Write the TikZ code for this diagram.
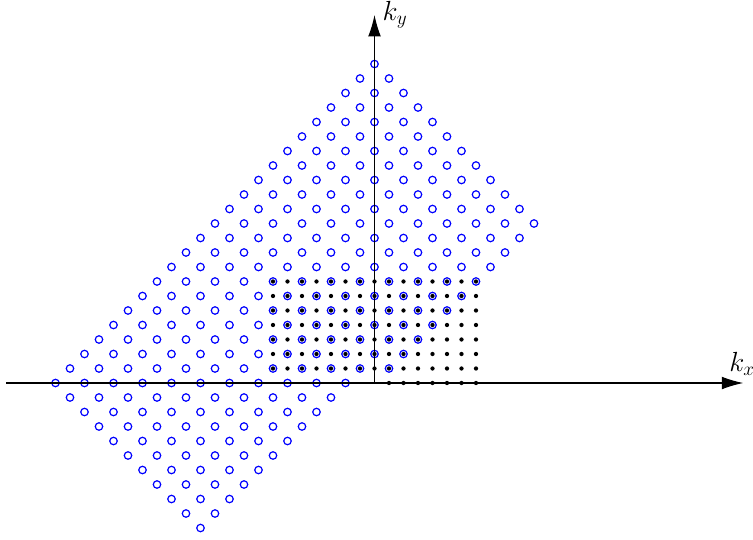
\documentclass[tikz,border=0pt]{standalone}
\usetikzlibrary{arrows.meta}
\tikzset{
  kaxis/.style={line width=0.8pt, -{Latex[length=16pt, width=9.5pt]}},
  bluept/.style={circle, draw=blue, line width=0.9pt, minimum size=5.6pt, inner sep=0pt},
  blackpt/.style={circle, fill=black, minimum size=3.2pt, inner sep=0pt},
  klabel/.style={inner sep=0pt, font=\fontsize{21}{25}\selectfont},
}

\begin{document}
\begin{tikzpicture}[x=10.875pt, y=10.875pt]
  \useasboundingbox (-25.828,-10.759) rectangle (26.103,26.414);

  % rotated lattice, half plane v>0 (u>0 on v=0)
  \foreach \u in {-11,...,11}
    \foreach \v in {0,...,11} {
      \pgfmathtruncatemacro{\skip}{(\v==0 && \u<1) ? 1 : 0}
      \ifnum\skip=0
        \node[bluept] (c-\u-\v) at ({\u-\v},{\u+\v}) {};
      \fi
    }

  % square lattice, half plane j>0 (i>0 on j=0)
  \foreach \i in {-7,...,7}
    \foreach \j in {0,...,7} {
      \pgfmathtruncatemacro{\skip}{(\j==0 && \i<1) ? 1 : 0}
      \ifnum\skip=0
        \node[blackpt] (d-\i-\j) at (\i,\j) {};
      \fi
    }

  \coordinate (o) at (0,0);
  \coordinate (xl) at (-25.41,0);
  \coordinate (xr) at (25.43,0);
  \coordinate (yt) at (0,25.38);

  \draw[kaxis] (xl) -- (xr);
  \draw[kaxis] (o) -- (yt);

  \node[klabel, anchor=base west] (kx) at (24.45,0.8) {$k_x$};
  \node[klabel, anchor=base west] (ky) at (0.55,25.0) {$k_y$};
\end{tikzpicture}
\end{document}
